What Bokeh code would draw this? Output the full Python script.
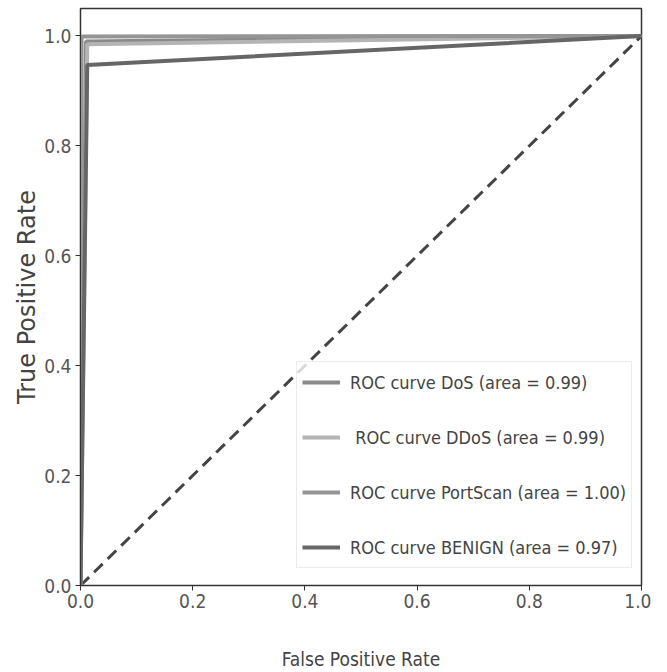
from bokeh.plotting import figure
from bokeh.models import Legend, LegendItem, FixedTicker
from bokeh.embed import file_html
from bokeh.resources import INLINE

# ROC data
dos_fpr = [0.0, 0.010, 1.0]
dos_tpr = [0.0, 0.990, 1.0]
ddos_fpr = [0.0, 0.012, 1.0]
ddos_tpr = [0.0, 0.985, 1.0]
portscan_fpr = [0.0, 0.002, 1.0]
portscan_tpr = [0.0, 0.999, 1.0]
benign_fpr = [0.0, 0.012, 1.0]
benign_tpr = [0.0, 0.947, 1.0]
chance_x = [0.0, 1.0]
chance_y = [0.0, 1.0]

labels = ["ROC curve DoS (area = 0.99)",
          " ROC curve DDoS (area = 0.99)",
          "ROC curve PortScan (area = 1.00)",
          "ROC curve BENIGN (area = 0.97)"]
ticks = [0.0, 0.2, 0.4, 0.6, 0.8, 1.0]
tick_labels = ["0.0", "0.2", "0.4", "0.6", "0.8", "1.0"]

NARROW = "DejaVu Sans Condensed"

p = figure(x_range=(0, 1), y_range=(0, 1.05),
           output_backend="svg", toolbar_location=None,
           min_border_left=80, min_border_right=10, min_border_top=8,
           min_border_bottom=71)
p.frame_width = 561
p.frame_height = 577
p.xgrid.visible = False
p.ygrid.visible = False
p.outline_line_color = "#333333"
p.outline_line_width = 1.5
p.background_fill_color = "white"
p.border_fill_color = "white"

p.line(chance_x, chance_y, line_color="#444444", line_width=3, line_dash="12 7")

r1 = p.line(dos_fpr, dos_tpr, line_color="#8a8a8a", line_width=4)
r2 = p.line(ddos_fpr, ddos_tpr, line_color="#b4b4b4", line_width=4)
r3 = p.line(portscan_fpr, portscan_tpr, line_color="#959595", line_width=4)
r4 = p.line(benign_fpr, benign_tpr, line_color="#666666", line_width=4)

for ax in (p.xaxis[0], p.yaxis[0]):
    ax.ticker = FixedTicker(ticks=ticks)
    ax.major_label_overrides = {t: l for t, l in zip(ticks, tick_labels)}
    ax.minor_tick_line_color = None
    ax.major_tick_in = 0
    ax.major_tick_out = 5
    ax.axis_line_color = "#333333"
    ax.major_tick_line_color = "#333333"
    ax.major_label_text_font = NARROW
    ax.major_label_text_font_size = "19px"
    ax.major_label_text_color = "#555555"
    ax.axis_label_text_font_style = "normal"
    ax.axis_label_text_color = "#444444"

p.xaxis.major_label_standoff = 3
p.yaxis.major_label_standoff = 4
p.xaxis.axis_label = "False Positive Rate"
p.xaxis.axis_label_text_font = NARROW
p.xaxis.axis_label_text_font_size = "19px"
p.xaxis.axis_label_standoff = 37
p.yaxis.axis_label = "True Positive Rate"
p.yaxis.axis_label_text_font = "DejaVu Sans"
p.yaxis.axis_label_text_font_size = "24px"
p.yaxis.axis_label_standoff = 0

legend = Legend(items=[LegendItem(label=labels[0], renderers=[r1]),
                       LegendItem(label=labels[1], renderers=[r2]),
                       LegendItem(label=labels[2], renderers=[r3]),
                       LegendItem(label=labels[3], renderers=[r4])],
                location=(216, 17))
legend.label_text_font = NARROW
legend.label_text_font_size = "18px"
legend.label_text_color = "#444444"
legend.glyph_width = 38
legend.glyph_height = 30
legend.label_height = 30
legend.label_standoff = 10
legend.spacing = 25
legend.padding = 5
legend.margin = 0
legend.border_line_color = "#d8d8d8"
legend.border_line_width = 1
legend.background_fill_color = "white"
legend.background_fill_alpha = 0.8
p.add_layout(legend)

open("out.html", "w").write(file_html(p, INLINE))
